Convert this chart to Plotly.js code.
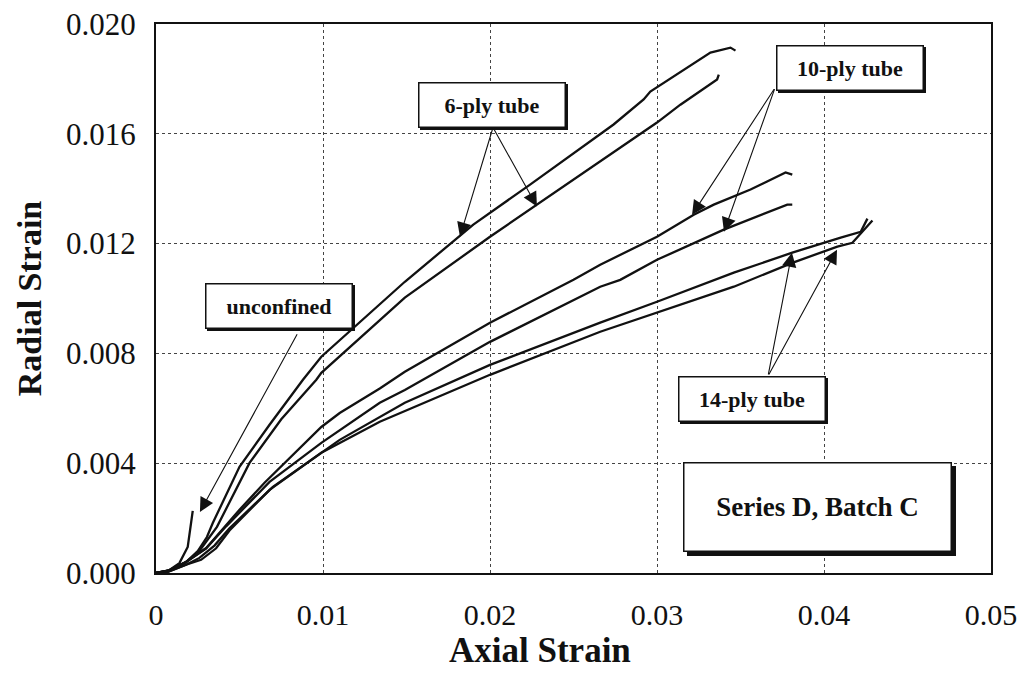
<!DOCTYPE html>
<html>
<head>
<meta charset="utf-8">
<script src="https://cdn.plot.ly/plotly-3.0.1.min.js"></script>
<style>html,body{margin:0;padding:0;background:#fff;}#chart{width:1021px;height:691px;}</style>
</head>
<body>
<div id="chart"></div>
<script>
// Axial strain (x) and radial strain (y)
const unconfinedX = [0, 0.0007, 0.0014, 0.0019, 0.0022];
const unconfinedY = [0, 0.00007, 0.00036, 0.00095, 0.00226];

const ply6aX = [0, 0.0008, 0.0018, 0.0025, 0.00305, 0.0034, 0.0050, 0.0068, 0.0088, 0.0099, 0.0149, 0.0176, 0.0190, 0.0224, 0.0274, 0.0292, 0.0296, 0.0332, 0.0344, 0.0347];
const ply6aY = [0, 0.0001, 0.0004, 0.0008, 0.00131, 0.00182, 0.00387, 0.0054, 0.00704, 0.00788, 0.01061, 0.01196, 0.01269, 0.01415, 0.01634, 0.01725, 0.01754, 0.01896, 0.01914, 0.01903];

const ply6bX = [0, 0.0008, 0.0018, 0.0026, 0.00365, 0.0056, 0.0075, 0.0096, 0.0099, 0.0134, 0.0149, 0.0200, 0.0228, 0.0296, 0.0300, 0.0314, 0.0336, 0.0337];
const ply6bY = [0, 0.0001, 0.0004, 0.0008, 0.00168, 0.00401, 0.0056, 0.00704, 0.00729, 0.00923, 0.01003, 0.01225, 0.01342, 0.01626, 0.01641, 0.01706, 0.01798, 0.01816];

const ply10aX = [0, 0.0008, 0.0018, 0.0030, 0.0040, 0.0050, 0.0065, 0.0074, 0.0099, 0.0110, 0.0134, 0.0149, 0.0200, 0.0250, 0.0266, 0.0300, 0.0322, 0.0334, 0.0356, 0.0377, 0.0381];
const ply10aY = [0, 0.0001, 0.0004, 0.0009, 0.0016, 0.0023, 0.00329, 0.00383, 0.00532, 0.00583, 0.00672, 0.00733, 0.00912, 0.01068, 0.01123, 0.01225, 0.01305, 0.01342, 0.01397, 0.01459, 0.01451];

const ply10bX = [0, 0.0008, 0.0018, 0.0030, 0.0042, 0.0053, 0.0068, 0.0099, 0.0134, 0.0149, 0.0200, 0.0266, 0.0278, 0.0300, 0.0340, 0.0378, 0.0381];
const ply10bY = [0, 0.0001, 0.0004, 0.0009, 0.0017, 0.0024, 0.00332, 0.00474, 0.0062, 0.00667, 0.00842, 0.01043, 0.01068, 0.01141, 0.01251, 0.01342, 0.01342];

const ply14aX = [0, 0.0007, 0.0018, 0.0026, 0.0035, 0.0044, 0.0070, 0.0110, 0.0149, 0.0200, 0.0266, 0.0284, 0.0300, 0.0346, 0.0381, 0.0410, 0.0422, 0.0426];
const ply14aY = [0, 0.00004, 0.0003, 0.00055, 0.0010, 0.00163, 0.00314, 0.00485, 0.0062, 0.00758, 0.00912, 0.00952, 0.00988, 0.01094, 0.01167, 0.01222, 0.01243, 0.01291];

const ply14bX = [0, 0.0007, 0.0018, 0.0027, 0.0036, 0.0044, 0.0068, 0.0099, 0.0134, 0.0200, 0.0266, 0.0300, 0.0346, 0.0381, 0.0408, 0.0417, 0.0429];
const ply14bY = [0, 0.00004, 0.0003, 0.00048, 0.0009, 0.00155, 0.00303, 0.00438, 0.00551, 0.00722, 0.00879, 0.00948, 0.01043, 0.0113, 0.01189, 0.01203, 0.01284];

const xTickVals = [0, 0.01, 0.02, 0.03, 0.04, 0.05];
const xTickText = ['0', '0.01', '0.02', '0.03', '0.04', '0.05'];
const yTickVals = [0, 0.004, 0.008, 0.012, 0.016, 0.020];
const yTickText = ['0.000', '0.004', '0.008', '0.012', '0.016', '0.020'];

const serif = 'Liberation Serif, Times New Roman, serif';
const lineStyle = {color: '#111', width: 2.3};

function tr(x, y, name) {
  return {x: x, y: y, mode: 'lines', line: lineStyle, name: name, showlegend: false, hoverinfo: 'skip'};
}
const traces = [
  tr(unconfinedX, unconfinedY, 'unconfined'),
  tr(ply6aX, ply6aY, '6-ply A'),
  tr(ply6bX, ply6bY, '6-ply B'),
  tr(ply10aX, ply10aY, '10-ply A'),
  tr(ply10bX, ply10bY, '10-ply B'),
  tr(ply14aX, ply14aY, '14-ply A'),
  tr(ply14bX, ply14bY, '14-ply B')
];

function box(x, y, text, w, h, size, sh) {
  const base = {x: x, y: y, xref: 'x', yref: 'y', showarrow: false,
    font: {family: serif, size: size, color: '#111'},
    borderwidth: 1.5, borderpad: 2, width: w, height: h, align: 'center', valign: 'middle'};
  const shadowAnn = Object.assign({}, base, {text: ' ', bgcolor: '#111', bordercolor: '#111', xshift: sh, yshift: -sh});
  const main = Object.assign({}, base, {text: '<b>' + text + '</b>', bgcolor: '#fff', bordercolor: '#111'});
  return [shadowAnn, main];
}
function arrow(tipX, tipY, tailX, tailY) {
  return {x: tipX, y: tipY, ax: tailX, ay: tailY, xref: 'x', yref: 'y', axref: 'x', ayref: 'y',
    text: '', showarrow: true, arrowhead: 2, arrowsize: 2.6, arrowwidth: 1.1, arrowcolor: '#111', standoff: 0, startstandoff: 0};
}

const annotations = [
  arrow(0.0182, 0.01225, 0.02018, 0.01623),
  arrow(0.02281, 0.01335, 0.02018, 0.01623),
  arrow(0.0321, 0.01305, 0.03707, 0.01768),
  arrow(0.03401, 0.01243, 0.03707, 0.01768),
  arrow(0.03808, 0.01167, 0.03665, 0.00718),
  arrow(0.04078, 0.01178, 0.03665, 0.00718),
  arrow(0.00263, 0.00222, 0.0085, 0.00875)
].concat(
  box(0.02012, 0.01706, '6-ply tube', 141, 39, 22, 2),
  box(0.04156, 0.01841, '10-ply tube', 141, 39, 22, 2),
  box(0.03569, 0.00634, '14-ply tube', 141, 39, 22, 2),
  box(0.00737, 0.00974, 'unconfined', 141, 39, 22, 2),
  box(0.03964, 0.00241, 'Series D, Batch C', 262, 83, 27, 4),
  [{xref: 'paper', yref: 'paper', x: 0.46, y: -0.142, xanchor: 'center', yanchor: 'middle',
    showarrow: false, text: '<b>Axial Strain</b>', font: {family: serif, size: 35, color: '#111'}}]
);

const layout = {
  width: 1021, height: 691,
  margin: {l: 156, r: 30, t: 24, b: 118},
  paper_bgcolor: '#fff', plot_bgcolor: '#fff',
  font: {family: serif, color: '#111'},
  showlegend: false,
  xaxis: {
    range: [0, 0.05], tickvals: xTickVals, ticktext: xTickText,
    tickfont: {family: serif, size: 30, color: '#111'}, ticks: '', ticklen: 0, ticklabelstandoff: 14,
    showgrid: true, gridcolor: '#444', griddash: 'dot', gridwidth: 1,
    showline: true, linecolor: '#111', linewidth: 2, mirror: true, zeroline: false,
    fixedrange: true
  },
  yaxis: {
    range: [0, 0.020], tickvals: yTickVals, ticktext: yTickText,
    tickfont: {family: serif, size: 31, color: '#111'}, ticks: '', ticklen: 0, ticklabelstandoff: 12,
    showgrid: true, gridcolor: '#444', griddash: 'dot', gridwidth: 1,
    showline: true, linecolor: '#111', linewidth: 2, mirror: true, zeroline: false,
    title: {text: '<b>Radial Strain</b>', font: {family: serif, size: 34, color: '#111'}, standoff: 14},
    fixedrange: true
  },
  annotations: annotations
};

Plotly.newPlot('chart', traces, layout, {displayModeBar: false, staticPlot: true});
</script>
</body>
</html>
